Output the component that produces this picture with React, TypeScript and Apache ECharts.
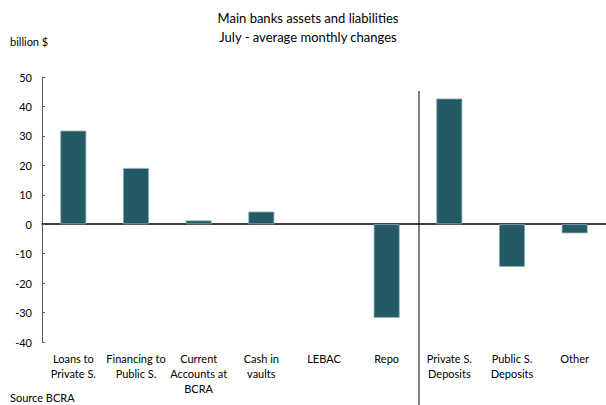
import React, { useEffect, useRef } from "react";
import * as echarts from "echarts";

const categories = [
  "Loans to\nPrivate S.",
  "Financing to\nPublic S.",
  "Current\nAccounts at\nBCRA",
  "Cash in\nvaults",
  "LEBAC",
  "Repo",
  "Private S.\nDeposits",
  "Public S.\nDeposits",
  "Other",
];
const values = [31.8, 19.1, 1.3, 4.3, 0, -31.8, 42.7, -14.5, -3.1];
const titleLines = ["Main banks assets and liabilities", "July - average monthly changes"];
const unitLabel = "billion $";
const sourceLabel = "Source BCRA";

const FONT = "Lato, 'Open Sans', sans-serif";

export default function App() {
  const ref = useRef<HTMLDivElement>(null);
  useEffect(() => {
    const chart = echarts.init(ref.current!, null, { renderer: "svg" });
    chart.setOption({
      animation: false,
      backgroundColor: "#ffffff",
      grid: { left: 42, right: -5, top: 77, bottom: 63 },
      xAxis: [
        {
          type: "category",
          data: categories,
          position: "bottom",
          axisLine: { show: false, onZero: false },
          axisTick: { show: false },
          axisLabel: {
            interval: 0,
            margin: 9,
            fontFamily: FONT,
            fontSize: 11,
            lineHeight: 15,
            color: "#000",
          },
        },
        {
          type: "category",
          data: categories,
          position: "top",
          axisLine: { show: true, onZero: true, lineStyle: { color: "#000", width: 1.5 } },
          axisTick: { show: false },
          axisLabel: { show: false },
        },
      ],
      yAxis: {
        type: "value",
        min: -40,
        max: 50,
        interval: 10,
        axisLine: { show: true, lineStyle: { color: "#595959", width: 1 } },
        axisTick: { show: true, inside: true, length: 3, lineStyle: { color: "#595959" } },
        splitLine: { show: false },
        axisLabel: { fontFamily: FONT, fontSize: 11, color: "#000", margin: 10 },
      },
      series: [
        {
          type: "bar",
          data: values.map((v) =>
            v === 0 ? { value: v, itemStyle: { borderWidth: 0 } } : v
          ),
          barWidth: 26,
          itemStyle: { color: "#245966", borderColor: "#8fb0b8", borderWidth: 0.8 },
        },
      ],
      graphic: [
        {
          type: "text",
          x: 308,
          y: 11,
          style: {
            text: titleLines[0],
            align: "center",
            fontFamily: FONT,
            fontSize: 13,
            fill: "#000",
          },
        },
        {
          type: "text",
          x: 308,
          y: 30,
          style: {
            text: titleLines[1],
            align: "center",
            fontFamily: FONT,
            fontSize: 13,
            fill: "#000",
          },
        },
        {
          type: "text",
          left: 10,
          top: 36,
          style: { text: unitLabel, fontFamily: FONT, fontSize: 11, fill: "#000" },
        },
        {
          type: "text",
          left: 10,
          top: 392,
          style: { text: sourceLabel, fontFamily: FONT, fontSize: 11, fill: "#000" },
        },
        {
          type: "line",
          shape: { x1: 419, y1: 91, x2: 419, y2: 405 },
          style: { stroke: "#808080", lineWidth: 2 },
        },
      ],
    });
    return () => chart.dispose();
  }, []);
  return (
    <div
      ref={ref}
      style={{ position: "fixed", left: 0, top: 0, width: 606, height: 405 }}
    />
  );
}
